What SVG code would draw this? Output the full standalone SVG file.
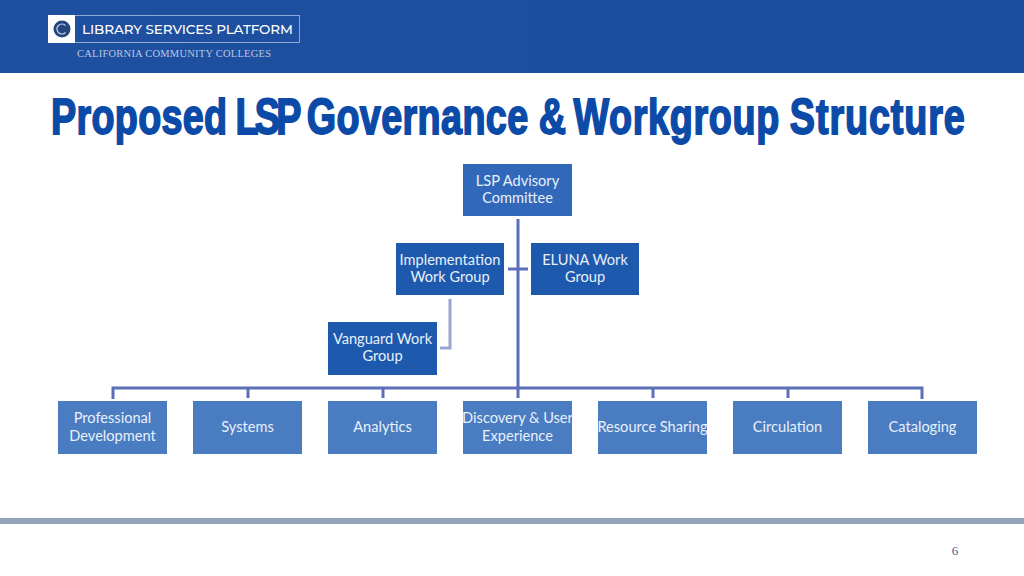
<svg xmlns="http://www.w3.org/2000/svg" width="1024" height="576" viewBox="0 0 1024 576">
<defs>
<linearGradient id="hdr" x1="0" y1="0" x2="1" y2="0"><stop offset="0" stop-color="#1f4f9f"/><stop offset="1" stop-color="#1d4d9e"/></linearGradient>
</defs>
<style>
.t{font-family:Lato,"Open Sans",sans-serif;font-size:14.600px;fill:#e8f0fa;text-anchor:middle}
.mid{fill:#4a7cc2}
.dark{fill:#1d59ad}
.top{fill:#3268b9}
.c{fill:none;stroke:#5b70b8;stroke-width:3}
.c2{fill:none;stroke:#9aa4d2;stroke-width:3}
</style>
<rect width="1024" height="73" fill="url(#hdr)"/>
<g id="logo">
<rect x="48.500" y="15.500" width="251" height="27" fill="none" stroke="#8fa8d4" stroke-width="1"/>
<rect x="48" y="15" width="27" height="28" fill="#fff"/>
<circle cx="62" cy="29" r="8.500" fill="#24467f"/>
<path d="M65.500 25.500A5 5 0 1 0 65.500 32.500" fill="none" stroke="#c8d4e8" stroke-width="1.200"/>
<text x="82" y="34" font-family="Montserrat,'Open Sans',sans-serif" font-size="13.500" font-weight="500" fill="#fff" textLength="211">LIBRARY SERVICES PLATFORM</text>
<text x="77" y="57" font-family="'Liberation Serif',serif" font-size="10.500" fill="#b8c9e2" textLength="194">CALIFORNIA COMMUNITY COLLEGES</text>
</g>
<text id="title" transform="translate(51 134) scale(0.7546 1)" font-family="'Liberation Sans',sans-serif" font-size="50" font-weight="700" fill="#0c4aa8" stroke="#0c4aa8" stroke-width="1.800" dx="0 .4 .4 .4 .4 .4 .4 .4 0 -2.800 -5 -5 -3 -3 .5 .5 .5 .5 .5 .5 .5 .5 .5 0 0 0 -4 .9 .9 .9 .9 .9 .9 .9 .9 0 0 1.200 1.200 1.200 1.200 1.200 1.200 1.200 1.200">Proposed LSP Governance &amp; Workgroup Structure</text>
<g id="connectors">
<path class="c" d="M518 219V388M113 399V388H922V399M248 388V398M383 388V398M653 388V398M788 388V398M508 269H528"/>
<path class="c" d="M518 388V398"/>
<path class="c2" d="M450 299V348H440"/>
</g>
<g id="n-advisory"><rect class="top" x="463" y="164" width="109" height="52"/><text class="t" x="517.500" y="186">LSP Advisory</text><text class="t" x="517.500" y="203">Committee</text></g>
<g id="n-impl"><rect class="dark" x="396" y="243" width="108" height="52"/><text class="t" x="450" y="265">Implementation</text><text class="t" x="450" y="282">Work Group</text></g>
<g id="n-eluna"><rect class="dark" x="531" y="243" width="108" height="52"/><text class="t" x="585" y="265">ELUNA Work</text><text class="t" x="585" y="282">Group</text></g>
<g id="n-vanguard"><rect class="dark" x="328" y="322" width="109" height="53"/><text class="t" x="382.500" y="344">Vanguard Work</text><text class="t" x="382.500" y="361">Group</text></g>
<g id="n-prof"><rect class="mid" x="58" y="401" width="109" height="53"/><text class="t" x="112.500" y="423">Professional</text><text class="t" x="112.500" y="441">Development</text></g>
<g id="n-systems"><rect class="mid" x="193" y="401" width="109" height="53"/><text class="t" x="247.500" y="432">Systems</text></g>
<g id="n-analytics"><rect class="mid" x="328" y="401" width="109" height="53"/><text class="t" x="382.500" y="432">Analytics</text></g>
<g id="n-discovery"><rect class="mid" x="463" y="401" width="109" height="53"/><text class="t" x="517.500" y="423">Discovery &amp; User</text><text class="t" x="517.500" y="441">Experience</text></g>
<g id="n-sharing"><rect class="mid" x="598" y="401" width="109" height="53"/><text class="t" x="652.500" y="432">Resource Sharing</text></g>
<g id="n-circulation"><rect class="mid" x="733" y="401" width="109" height="53"/><text class="t" x="787.500" y="432">Circulation</text></g>
<g id="n-cataloging"><rect class="mid" x="868" y="401" width="109" height="53"/><text class="t" x="922.500" y="432">Cataloging</text></g>
<rect x="0" y="518" width="1024" height="6" fill="#93a4bc"/>
<text x="955" y="555" font-family="'Liberation Serif',serif" font-size="13" fill="#4a5a96" text-anchor="middle">6</text>
</svg>
